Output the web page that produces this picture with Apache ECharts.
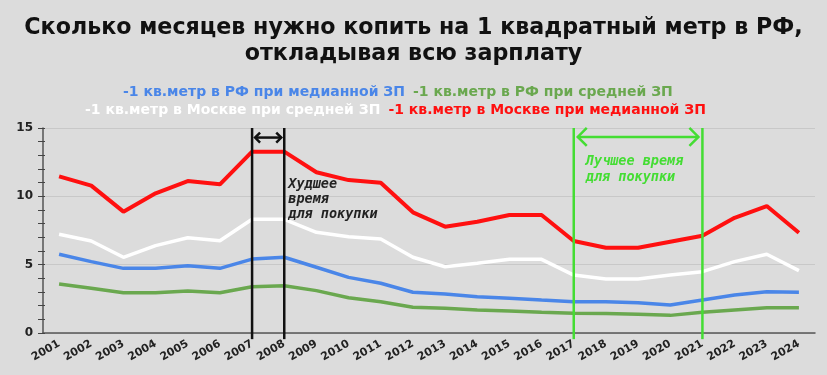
<!DOCTYPE html>
<html><head><meta charset="utf-8">
<script src="https://cdn.jsdelivr.net/npm/echarts@6/dist/echarts.min.js"></script>
<style>html,body{margin:0;padding:0;background:#dcdcdc;}#c{width:827px;height:375px;}</style>
</head><body><div id="c"></div>
<script>
const years = ['2001','2002','2003','2004','2005','2006','2007','2008','2009','2010','2011','2012','2013','2014','2015','2016','2017','2018','2019','2020','2021','2022','2023','2024'];
const rfMedian = [5.76,5.22,4.73,4.73,4.92,4.73,5.41,5.54,4.81,4.07,3.64,2.98,2.85,2.66,2.54,2.41,2.29,2.29,2.22,2.05,2.41,2.78,3.02,2.98];
const rfAverage = [3.58,3.27,2.95,2.95,3.07,2.95,3.39,3.46,3.10,2.58,2.29,1.88,1.81,1.68,1.61,1.51,1.44,1.42,1.37,1.29,1.51,1.68,1.85,1.85];
const mskAverage = [7.22,6.73,5.54,6.39,6.97,6.75,8.32,8.32,7.37,7.05,6.88,5.54,4.85,5.10,5.39,5.39,4.24,3.95,3.95,4.24,4.49,5.22,5.76,4.56];
const mskMedian = [11.46,10.78,8.88,10.22,11.12,10.88,13.27,13.27,11.76,11.19,11.00,8.83,7.78,8.14,8.63,8.63,6.73,6.24,6.24,6.68,7.12,8.43,9.29,7.34];
const yTicks = [0,5,10,15];
const names = ['1 кв.метр в РФ при медианной ЗП','1 кв.метр в РФ при средней ЗП','1 кв.метр в Москве при средней ЗП','1 кв.метр в Москве при медианной ЗП'];
const colors = ['#4a86e8','#6aa84f','#ffffff','#ff1010'];
const worst = ['2007','2008'];
const best = ['2017','2021'];

const chart = echarts.init(document.getElementById('c'));
const legFont = {fontFamily:'DejaVu Sans', fontWeight:'bold', fontSize:14};
function legendItem(i){ return {name:names[i], textStyle:Object.assign({color:colors[i]}, legFont)}; }
const seriesData = [rfMedian, rfAverage, mskAverage, mskMedian];
chart.setOption({
  backgroundColor:'#dcdcdc',
  animation:false,
  title:{text:'Сколько месяцев нужно копить на 1 квадратный метр в РФ,\nоткладывая всю зарплату', left:'center', top:10,
    textStyle:{fontFamily:'DejaVu Sans', fontWeight:'bold', fontSize:22.2, color:'#111', lineHeight:26}},
  legend:[
    {data:[legendItem(0),legendItem(1)], top:85, left:118, icon:'none', itemWidth:0, itemGap:3, formatter:'-{name}', selectedMode:false, padding:0},
    {data:[legendItem(2),legendItem(3)], top:103, left:80, icon:'none', itemWidth:0, itemGap:3, formatter:'-{name}', selectedMode:false, padding:0}
  ],
  grid:{left:43, right:12, top:128, bottom:42},
  xAxis:[
    {type:'category', data:years, boundaryGap:true, position:'bottom',
     axisLine:{lineStyle:{color:'#555', width:1.5}},
     axisTick:{alignWithLabel:true, length:6, lineStyle:{color:'#444', width:1.5}},
     axisLabel:{rotate:30, color:'#222', fontWeight:'bold', fontSize:11, fontFamily:'DejaVu Sans', margin:10}},
    {type:'category', data:years, boundaryGap:true, position:'bottom', offset:0,
     axisLine:{show:false}, axisLabel:{show:false},
     axisTick:{inside:true, alignWithLabel:true, length:6, lineStyle:{color:'#444', width:1.5}}}
  ],
  yAxis:[
    {type:'value', min:0, max:15, interval:5, position:'left',
     axisLine:{show:true, lineStyle:{color:'#555', width:1.5}},
     axisTick:{show:true, length:5, lineStyle:{color:'#444'}},
     minorTick:{show:true, splitNumber:5, length:5, lineStyle:{color:'#444'}},
     splitLine:{lineStyle:{color:'#c8c8c8', width:1}},
     axisLabel:{color:'#222', fontWeight:'bold', fontSize:12, fontFamily:'DejaVu Sans', margin:10,
       formatter:v=>yTicks.includes(v)?String(v):''}},
    {type:'value', min:0, max:15, interval:5, position:'left', offset:0,
     axisLine:{show:false}, axisLabel:{show:false}, splitLine:{show:false},
     axisTick:{show:true, inside:true, length:2, lineStyle:{color:'#444'}},
     minorTick:{show:true, splitNumber:5, length:2, lineStyle:{color:'#444'}}}
  ],
  series: seriesData.map((d,i)=>({
    name:names[i], type:'line', data:d, symbol:'none', z:3+i,
    lineStyle:{color:colors[i], width: i===3?4:3.5}, itemStyle:{color:colors[i]}
  }))
});

function px(x,y){ return chart.convertToPixel({xAxisIndex:0,yAxisIndex:0},[x,y]); }
function vline(cat,color){
  const a=px(cat,15), b=px(cat,-0.45);
  return {type:'line', shape:{x1:a[0],y1:a[1],x2:b[0],y2:b[1]}, style:{stroke:color,lineWidth:2.5}, z:20};
}
function arrow(catA,catB,yv,color,pad,head,w){
  const a=px(catA,yv), b=px(catB,yv);
  const x1=a[0]+pad, x2=b[0]-pad, y=a[1];
  return [
    {type:'line', shape:{x1:x1,y1:y,x2:x2,y2:y}, style:{stroke:color,lineWidth:w}, z:20},
    {type:'polyline', shape:{points:[[x1+head,y-head],[x1,y],[x1+head,y+head]]}, style:{stroke:color,lineWidth:w,fill:null}, z:20},
    {type:'polyline', shape:{points:[[x2-head,y-head],[x2,y],[x2-head,y+head]]}, style:{stroke:color,lineWidth:w,fill:null}, z:20}
  ];
}
const annStyle = {fontFamily:'DejaVu Sans Mono, Liberation Mono, monospace', fontStyle:'italic', fontWeight:'bold', fontSize:13.5};
const wA = px(worst[1],11.4), bA = px(best[0],13.1);
chart.setOption({graphic:[
  vline(worst[0],'#111'), vline(worst[1],'#111'),
  vline(best[0],'#44dd33'), vline(best[1],'#44dd33'),
  ...arrow(worst[0],worst[1],14.3,'#111',3,5,2.5),
  ...arrow(best[0],best[1],14.35,'#44dd33',4,9,2.5),
  {type:'text', x:wA[0]+4, y:wA[1], style:Object.assign({text:'Худшее\nвремя\nдля покупки', fill:'#222', lineHeight:15}, annStyle), z:20},
  {type:'text', x:bA[0]+12, y:bA[1], style:Object.assign({text:'Лучшее время\nдля покупки', fill:'#44dd33', lineHeight:16}, annStyle), z:20}
]});
</script></body></html>
